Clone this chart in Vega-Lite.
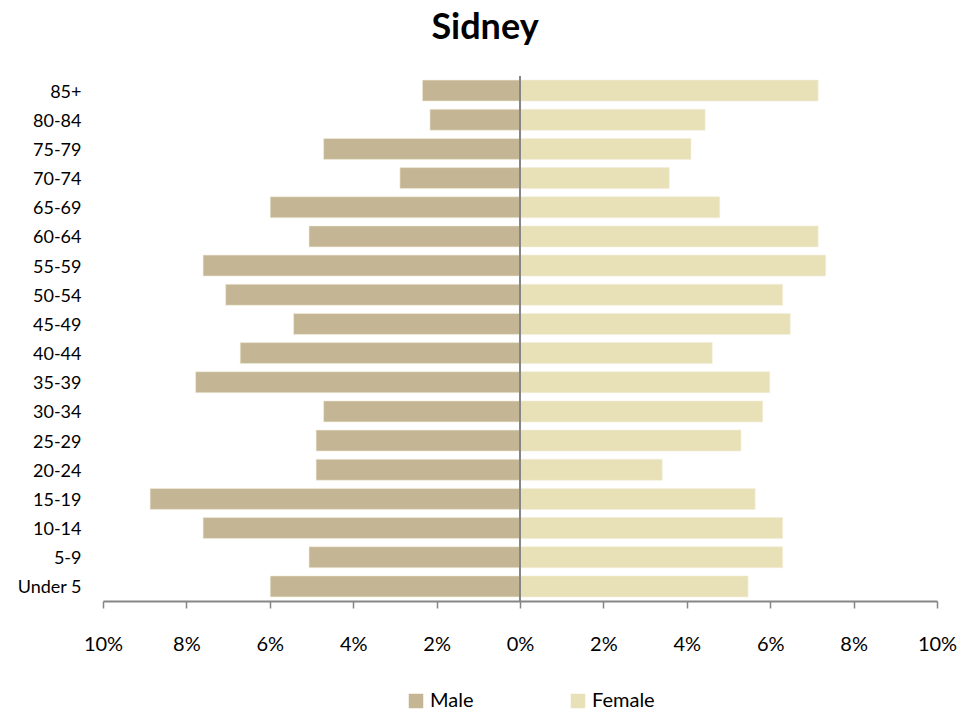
{
  "$schema": "https://vega.github.io/schema/vega-lite/v6.json",
  "width": 834,
  "height": 525,
  "autosize": "none",
  "padding": {"left": 103, "top": 76, "right": 42, "bottom": 112},
  "background": "white",
  "config": {
    "font": "Lato",
    "view": {"stroke": null}
  },
  "title": {
    "text": "Sidney",
    "fontSize": 36,
    "fontWeight": "bold",
    "font": "Lato",
    "color": "#000000",
    "anchor": "middle",
    "dx": -35,
    "offset": 28
  },
  "data": {
    "values": [
      {"age": "85+", "sex": "Male", "pct": -2.34},
      {"age": "80-84", "sex": "Male", "pct": -2.16},
      {"age": "75-79", "sex": "Male", "pct": -4.71},
      {"age": "70-74", "sex": "Male", "pct": -2.88},
      {"age": "65-69", "sex": "Male", "pct": -5.99},
      {"age": "60-64", "sex": "Male", "pct": -5.06},
      {"age": "55-59", "sex": "Male", "pct": -7.60},
      {"age": "50-54", "sex": "Male", "pct": -7.06},
      {"age": "45-49", "sex": "Male", "pct": -5.43},
      {"age": "40-44", "sex": "Male", "pct": -6.71},
      {"age": "35-39", "sex": "Male", "pct": -7.78},
      {"age": "30-34", "sex": "Male", "pct": -4.71},
      {"age": "25-29", "sex": "Male", "pct": -4.89},
      {"age": "20-24", "sex": "Male", "pct": -4.89},
      {"age": "15-19", "sex": "Male", "pct": -8.87},
      {"age": "10-14", "sex": "Male", "pct": -7.60},
      {"age": "5-9", "sex": "Male", "pct": -5.06},
      {"age": "Under 5", "sex": "Male", "pct": -5.99},
      {"age": "85+", "sex": "Female", "pct": 7.15},
      {"age": "80-84", "sex": "Female", "pct": 4.44},
      {"age": "75-79", "sex": "Female", "pct": 4.10},
      {"age": "70-74", "sex": "Female", "pct": 3.58},
      {"age": "65-69", "sex": "Female", "pct": 4.79},
      {"age": "60-64", "sex": "Female", "pct": 7.15},
      {"age": "55-59", "sex": "Female", "pct": 7.33},
      {"age": "50-54", "sex": "Female", "pct": 6.30},
      {"age": "45-49", "sex": "Female", "pct": 6.48},
      {"age": "40-44", "sex": "Female", "pct": 4.61},
      {"age": "35-39", "sex": "Female", "pct": 5.99},
      {"age": "30-34", "sex": "Female", "pct": 5.82},
      {"age": "25-29", "sex": "Female", "pct": 5.30},
      {"age": "20-24", "sex": "Female", "pct": 3.41},
      {"age": "15-19", "sex": "Female", "pct": 5.64},
      {"age": "10-14", "sex": "Female", "pct": 6.30},
      {"age": "5-9", "sex": "Female", "pct": 6.30},
      {"age": "Under 5", "sex": "Female", "pct": 5.47}
    ]
  },
  "layer": [
    {
      "mark": {"type": "bar", "stroke": "#f3efdc", "strokeWidth": 0.6},
      "encoding": {
        "y": {
          "field": "age",
          "type": "nominal",
          "sort": ["85+", "80-84", "75-79", "70-74", "65-69", "60-64", "55-59", "50-54", "45-49", "40-44", "35-39", "30-34", "25-29", "20-24", "15-19", "10-14", "5-9", "Under 5"],
          "scale": {"paddingInner": 0.28, "paddingOuter": 0.14},
          "axis": {
            "title": null,
            "domain": false,
            "ticks": false,
            "labelPadding": 22,
            "labelOffset": 2,
            "labelFontSize": 18,
            "labelColor": "#000000",
            "labelFont": "Lato"
          }
        },
        "x": {
          "field": "pct",
          "type": "quantitative",
          "scale": {"domain": [-10, 10], "nice": false, "zero": false},
          "axis": {
            "title": null,
            "values": [-10, -8, -6, -4, -2, 0, 2, 4, 6, 8, 10],
            "labelExpr": "abs(datum.value) + '%'",
            "labelFlush": false,
            "grid": false,
            "domainColor": "#868686",
            "domainWidth": 2,
            "tickColor": "#868686",
            "tickWidth": 1.5,
            "tickSize": 7,
            "labelPadding": 26,
            "labelFontSize": 20,
            "labelColor": "#000000",
            "labelFont": "Lato"
          }
        },
        "color": {
          "field": "sex",
          "type": "nominal",
          "scale": {"domain": ["Male", "Female"], "range": ["#c4b695", "#e8e1b7"]},
          "legend": {
            "title": null,
            "orient": "none",
            "legendX": 303,
            "legendY": 615,
            "direction": "horizontal",
            "symbolType": "square",
            "symbolSize": 210,
            "symbolStrokeWidth": 0,
            "labelFontSize": 20,
            "labelFont": "Lato",
            "labelColor": "#000000",
            "labelOffset": 4,
            "columnPadding": 94
          }
        }
      }
    },
    {
      "data": {"values": [{"zero": 0}]},
      "mark": {"type": "rule", "color": "#868686", "strokeWidth": 2},
      "encoding": {
        "x": {"field": "zero", "type": "quantitative"}
      }
    }
  ]
}
